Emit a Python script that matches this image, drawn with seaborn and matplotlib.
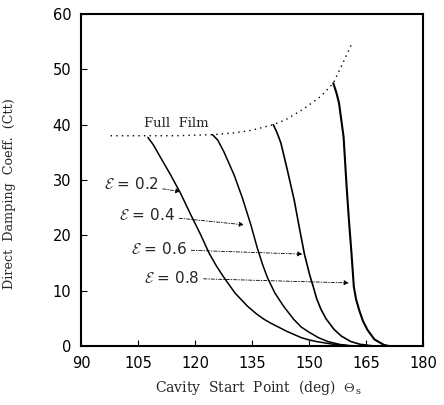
import matplotlib
matplotlib.use("Agg")
import matplotlib.pyplot as plt
import seaborn as sns

# ===================================
# DATA
# ===================================

theta_ff = [97.8, 105, 115, 125, 130, 135, 140.6, 143.9, 148.7, 153.1, 156.4, 157.5, 159.5, 161.3]
ctt_ff = [38.0, 38.0, 38.0, 38.2, 38.5, 39.0, 40.0, 40.9, 42.9, 45.1, 47.5, 49.1, 52.0, 54.7]

theta_02 = [107.6, 109, 111, 113.6, 116.2, 118.9, 121.5, 123.7, 125.6, 127.6, 130.5, 133.8,
            136, 138, 140, 142.6, 144, 146, 148, 150, 152, 156, 160, 163]
ctt_02 = [37.7, 36.4, 34.0, 30.9, 27.6, 23.7, 20.1, 16.8, 14.5, 12.4, 9.6, 7.2,
          5.9, 4.9, 4.1, 3.2, 2.7, 2.1, 1.5, 1.1, 0.8, 0.35, 0.1, 0.0]

theta_04 = [124.6, 126, 127.6, 130.3, 132.5, 134.7, 136.4, 137.8, 139.1, 141, 143.4,
            146, 148, 150, 152.5, 155, 158, 161]
ctt_04 = [38.2, 37.2, 35.1, 30.9, 26.7, 21.9, 17.7, 14.7, 12.3, 9.6, 7.1,
          4.8, 3.4, 2.5, 1.5, 0.8, 0.3, 0.0]

theta_06 = [140.6, 141.5, 142.6, 144.3, 146.1, 147.4, 148.8, 150.2, 151, 152, 153.1,
            154.5, 156.6, 158.5, 161, 163.5, 167]
ctt_06 = [40.0, 38.7, 36.7, 31.8, 26.4, 21.6, 16.6, 12.8, 11.0, 8.6, 6.7,
          4.9, 3.0, 1.8, 0.8, 0.3, 0.0]

theta_08 = [156.4, 157.2, 157.9, 159.1, 159.9, 160.5, 161.2, 161.8, 162.4, 163.2,
            164.2, 165.4, 167.2, 169.7, 171]
ctt_08 = [47.5, 45.8, 43.9, 37.8, 28.8, 22.8, 16.6, 10.7, 8.4, 6.5,
          4.5, 2.9, 1.2, 0.2, 0.0]

eps_labels = ["0.2", "0.4", "0.6", "0.8"]
label_xy = [(96.0, 29.3), (99.9, 23.7), (103.1, 17.5), (106.5, 12.3)]
arrow_xy = [(116.2, 27.9), (132.9, 21.9), (148.3, 16.6), (160.5, 11.4)]

x_ticks = [90, 105, 120, 135, 150, 165, 180]
y_ticks = [0, 10, 20, 30, 40, 50, 60]

# ===================================
# PLOT
# ===================================

sns.set_style("ticks")
plt.rcParams["font.family"] = ["DejaVu Sans"]
plt.rcParams["mathtext.fontset"] = "cm"

fig = plt.figure(figsize=(4.44, 4.05), dpi=100)
ax = fig.add_axes([0.1824, 0.1457, 0.7703, 0.8197])

sns.lineplot(x=theta_ff, y=ctt_ff, ax=ax, color="black", lw=1.0,
             linestyle=(0, (1, 3)), sort=False)
for th, c, w in [(theta_02, ctt_02, 1.1), (theta_04, ctt_04, 1.1),
                 (theta_06, ctt_06, 1.2), (theta_08, ctt_08, 1.5)]:
    sns.lineplot(x=th, y=c, ax=ax, color="black", lw=w, sort=False,
                 solid_joinstyle="round")

ax.text(106.5, 40.3, "Full  Film", family="DejaVu Serif", fontsize=9.5,
        ha="left", va="center")

for lab, xy_text, xy_tip in zip(eps_labels, label_xy, arrow_xy):
    ax.annotate("$\\mathcal{E}$ = " + lab, xy=xy_tip, xytext=xy_text,
                ha="left", va="center", fontsize=11,
                arrowprops=dict(arrowstyle="-|>", color="black", lw=0.6,
                                linestyle=(0, (4, 2, 1, 2)),
                                mutation_scale=7, shrinkA=1, shrinkB=0))

ax.set_xlim(90, 180)
ax.set_ylim(0, 60)
ax.set_xticks(x_ticks)
ax.set_yticks(y_ticks)
ax.tick_params(direction="in", length=4, width=0.8, labelsize=10.5, colors="black")
ax.tick_params(axis="x", pad=7)
ax.tick_params(axis="y", pad=7)
for s in ax.spines.values():
    s.set_linewidth(1.5)
    s.set_color("black")

ax.set_xlabel("Cavity  Start  Point  (deg)  $\\Theta_\\mathregular{s}$",
              family="DejaVu Serif", fontsize=10)
ax.set_ylabel("Direct  Damping  Coeff.  (Ctt)", family="DejaVu Serif",
              fontsize=9.2)
ax.xaxis.set_label_coords(0.52, -0.095)
ax.yaxis.set_label_coords(-0.19, 0.46)

plt.savefig("out.png", dpi=100)
